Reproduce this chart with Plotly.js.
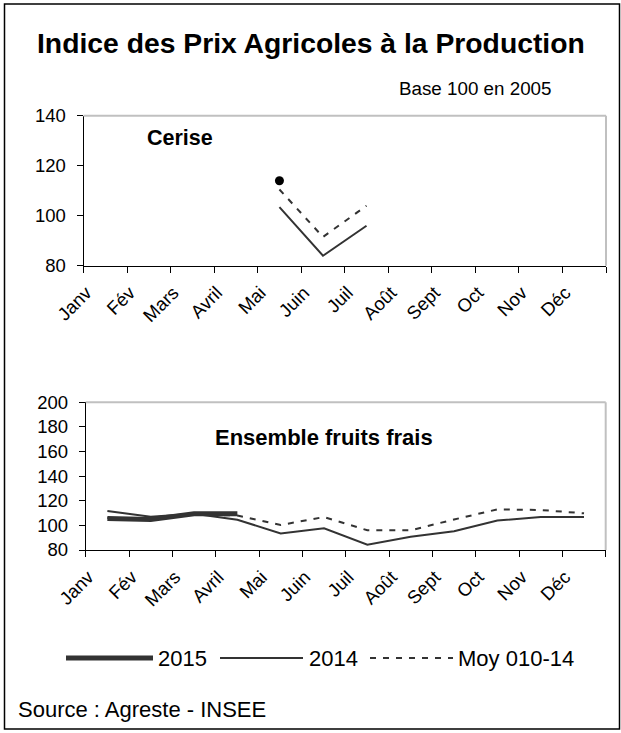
<!DOCTYPE html>
<html>
<head>
<meta charset="utf-8">
<script src="https://cdn.plot.ly/plotly-3.0.1.min.js"></script>
<style>html,body{margin:0;padding:0;background:#fff;}#chart{width:621px;height:733px;}</style>
</head>
<body>
<div id="chart"></div>
<script>
// ---- data ----
const months = ["Janv","Fév","Mars","Avril","Mai","Juin","Juil","Août","Sept","Oct","Nov","Déc"];
const cerise2015 = [null,null,null,null,114,null,null,null,null,null,null,null];
const cerise2014 = [null,null,null,null,103.4,84,96,null,null,null,null,null];
const ceriseMoy  = [null,null,null,null,110.5,91.5,104,null,null,null,null,null];
const fruits2015 = [105.5,104.7,109.5,109.5,null,null,null,null,null,null,null,null];
const fruits2014 = [111.7,107,109.4,104.5,93.5,97.6,84.3,90.8,95.2,103.9,106.8,106.8];
const fruitsMoy  = [106,105,109,108,100.3,106.8,96,96,104.8,113,112.5,109.8];
const seriesNames = ["2015","2014","Moy 010-14"];
const yTicksTop = [80,100,120,140];
const yTicksBottom = [80,100,120,140,160,180,200];

const W = 621, H = 733;
const px = x => x / W;
const py = y => 1 - y / H;
const FONT = "Liberation Sans, Arial, sans-serif";
const LC = "#333333";
const dashStyle = "6px,7px";

const traces = [
  {x: months, y: ceriseMoy, xaxis:"x", yaxis:"y", mode:"lines", name: seriesNames[2],
   line:{color:LC, width:2, dash:dashStyle}},
  {x: months, y: cerise2014, xaxis:"x", yaxis:"y", mode:"lines", name: seriesNames[1],
   line:{color:LC, width:2}},
  {x: months, y: cerise2015, xaxis:"x", yaxis:"y", mode:"markers", name: seriesNames[0],
   marker:{color:"#000", size:9}},
  {x: months, y: fruitsMoy, xaxis:"x2", yaxis:"y2", mode:"lines", name: seriesNames[2],
   line:{color:LC, width:2, dash:dashStyle}},
  {x: months, y: fruits2014, xaxis:"x2", yaxis:"y2", mode:"lines", name: seriesNames[1],
   line:{color:LC, width:2}},
  {x: months, y: fruits2015, xaxis:"x2", yaxis:"y2", mode:"lines", name: seriesNames[0],
   line:{color:LC, width:5}}
];

function xAxis(domain, anchor){
  return {
    domain: domain, anchor: anchor, type:"category", categoryorder:"array", categoryarray: months,
    range:[-0.5, 11.5], fixedrange:true, tickson:"boundaries",
    ticks:"outside", ticklen:6, tickwidth:1, tickcolor:"#000",
    showline:true, linecolor:"#000", linewidth:1, showgrid:false, zeroline:false,
    tickangle:-45, ticklabelshift:-19, ticklabelstandoff:8,
    tickfont:{family:FONT, size:18.5, color:"#000"}
  };
}
function yAxis(domain, anchor, range, vals){
  return {
    domain: domain, anchor: anchor, range: range, tickmode:"array", tickvals: vals,
    ticks:"outside", ticklen:6, tickwidth:1, tickcolor:"#000",
    showline:true, linecolor:"#000", linewidth:1, showgrid:false, zeroline:false,
    ticklabelstandoff:7,
    tickfont:{family:FONT, size:18.5, color:"#000"}, fixedrange:true
  };
}

const shapes = [
  // outer frame
  {type:"rect", xref:"paper", yref:"paper", x0:px(4.5), x1:px(619.5), y0:py(729), y1:py(4),
   line:{color:"#000", width:1.5}},
  // gray top/right plot borders
  {type:"line", xref:"x domain", yref:"y domain", x0:0, x1:1, y0:1, y1:1, line:{color:"#c0c0c0", width:2}},
  {type:"line", xref:"x domain", yref:"y domain", x0:1, x1:1, y0:0, y1:1, line:{color:"#c0c0c0", width:2}},
  {type:"line", xref:"x2 domain", yref:"y2 domain", x0:0, x1:1, y0:1, y1:1, line:{color:"#c0c0c0", width:2}},
  {type:"line", xref:"x2 domain", yref:"y2 domain", x0:1, x1:1, y0:0, y1:1, line:{color:"#c0c0c0", width:2}},
  // legend samples
  {type:"line", xref:"paper", yref:"paper", x0:px(66), x1:px(153), y0:py(658), y1:py(658), line:{color:LC, width:5}},
  {type:"line", xref:"paper", yref:"paper", x0:px(220), x1:px(303), y0:py(658), y1:py(658), line:{color:LC, width:2}},
  {type:"line", xref:"paper", yref:"paper", x0:px(370), x1:px(453), y0:py(658), y1:py(658), line:{color:LC, width:2, dash:dashStyle}}
];

const ann = (text, x, y, size, opts) => Object.assign({
  text: text, xref:"paper", yref:"paper", x: px(x), y: py(y), showarrow:false,
  xanchor:"left", yanchor:"middle", font:{family:FONT, size:size, color:"#000"}
}, opts || {});

const annotations = [
  ann("<b>Indice des Prix Agricoles à la Production</b>", 310.5, 43, 28.3, {xanchor:"center"}),
  ann("Base 100 en 2005", 397, 88, 18.8),
  ann("<b>Cerise</b>", 180, 138, 21.5, {xanchor:"center"}),
  ann("<b>Ensemble fruits frais</b>", 324, 438, 22, {xanchor:"center"}),
  ann(seriesNames[0], 156, 658, 22),
  ann(seriesNames[1], 307, 658, 22),
  ann(seriesNames[2], 456, 658, 22),
  ann("Source : Agreste - INSEE", 16, 709, 22)
];

const layout = {
  width: W, height: H, margin:{l:0, r:0, t:0, b:0}, showlegend:false,
  paper_bgcolor:"#fff", plot_bgcolor:"#fff",
  font:{family:FONT, color:"#000"},
  xaxis: xAxis([px(83.5), px(606)], "y"),
  yaxis: yAxis([py(265.7), py(115.7)], "x", [80,140], yTicksTop),
  xaxis2: xAxis([px(85.7), px(605.7)], "y2"),
  yaxis2: yAxis([py(550), py(402.3)], "x2", [80,200], yTicksBottom),
  shapes: shapes, annotations: annotations
};

Plotly.newPlot("chart", traces, layout, {staticPlot:true, displayModeBar:false});
</script>
</body>
</html>
